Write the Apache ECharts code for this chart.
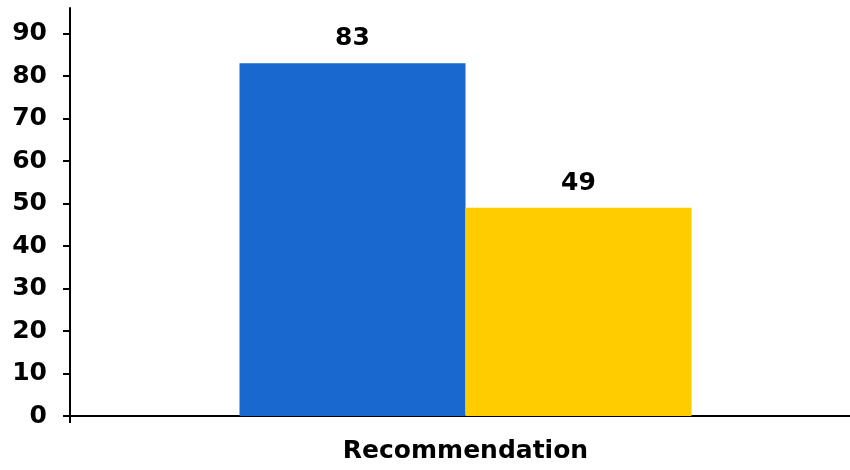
<!DOCTYPE html>
<html>
<head>
<meta charset="utf-8">
<script src="https://cdn.jsdelivr.net/npm/echarts@6/dist/echarts.min.js"></script>
<style>
  html, body { margin: 0; padding: 0; background: #fff; }
  #chart { width: 850px; height: 470px; }
</style>
</head>
<body>
<div id="chart"></div>
<script>
// Chart data
const categories = ['Recommendation'];
const seriesBlue = [83];
const seriesYellow = [49];
const yTicks = [0, 10, 20, 30, 40, 50, 60, 70, 80, 90];
const Y_MAX = 96;

const FONT = 'DejaVu Sans';
const FONT_SIZE = 25;
const chart = echarts.init(document.getElementById('chart'), null, { renderer: 'canvas' });

const labelStyle = {
  show: true,
  position: 'top',
  distance: 12,
  color: '#000',
  fontFamily: FONT,
  fontWeight: 'bold',
  fontSize: FONT_SIZE
};
const axisLineStyle = { color: '#000', width: 2 };

chart.setOption({
  animation: false,
  backgroundColor: '#fff',
  grid: [
    // frame: axis lines, y ticks and labels
    { left: 70, right: 0, top: 8, bottom: 54, containLabel: false },
    // bars and category label (band centred a little right of the frame centre)
    { left: 81, right: 0, top: 8, bottom: 54, containLabel: false }
  ],
  xAxis: [
    {
      gridIndex: 0,
      type: 'value',
      min: 0,
      max: 1,
      axisLine: { show: true, lineStyle: axisLineStyle },
      axisTick: { show: true, length: 7, customValues: [0], lineStyle: axisLineStyle },
      axisLabel: { show: false },
      splitLine: { show: false }
    },
    {
      gridIndex: 1,
      type: 'category',
      data: categories,
      axisLine: { show: false },
      axisTick: { show: false },
      axisLabel: {
        color: '#000', fontFamily: FONT, fontWeight: 'bold', fontSize: FONT_SIZE, margin: 23
      },
      splitLine: { show: false }
    }
  ],
  yAxis: [
    {
      gridIndex: 0,
      type: 'value',
      min: 0,
      max: Y_MAX,
      interval: 10,
      axisLine: { show: true, lineStyle: axisLineStyle },
      axisTick: { show: true, length: 7, customValues: yTicks, lineStyle: axisLineStyle },
      axisLabel: {
        color: '#000', fontFamily: FONT, fontWeight: 'bold', fontSize: FONT_SIZE, margin: 23,
        customValues: yTicks
      },
      splitLine: { show: false }
    },
    {
      gridIndex: 1,
      type: 'value',
      min: 0,
      max: Y_MAX,
      show: false
    }
  ],
  series: [
    {
      type: 'bar',
      xAxisIndex: 1,
      yAxisIndex: 1,
      data: seriesBlue,
      barWidth: 226,
      barGap: '0%',
      itemStyle: { color: '#1868D0' },
      label: labelStyle
    },
    {
      type: 'bar',
      xAxisIndex: 1,
      yAxisIndex: 1,
      data: seriesYellow,
      barWidth: 226,
      barGap: '0%',
      itemStyle: { color: '#FFCC00' },
      label: labelStyle
    }
  ]
});
</script>
</body>
</html>
